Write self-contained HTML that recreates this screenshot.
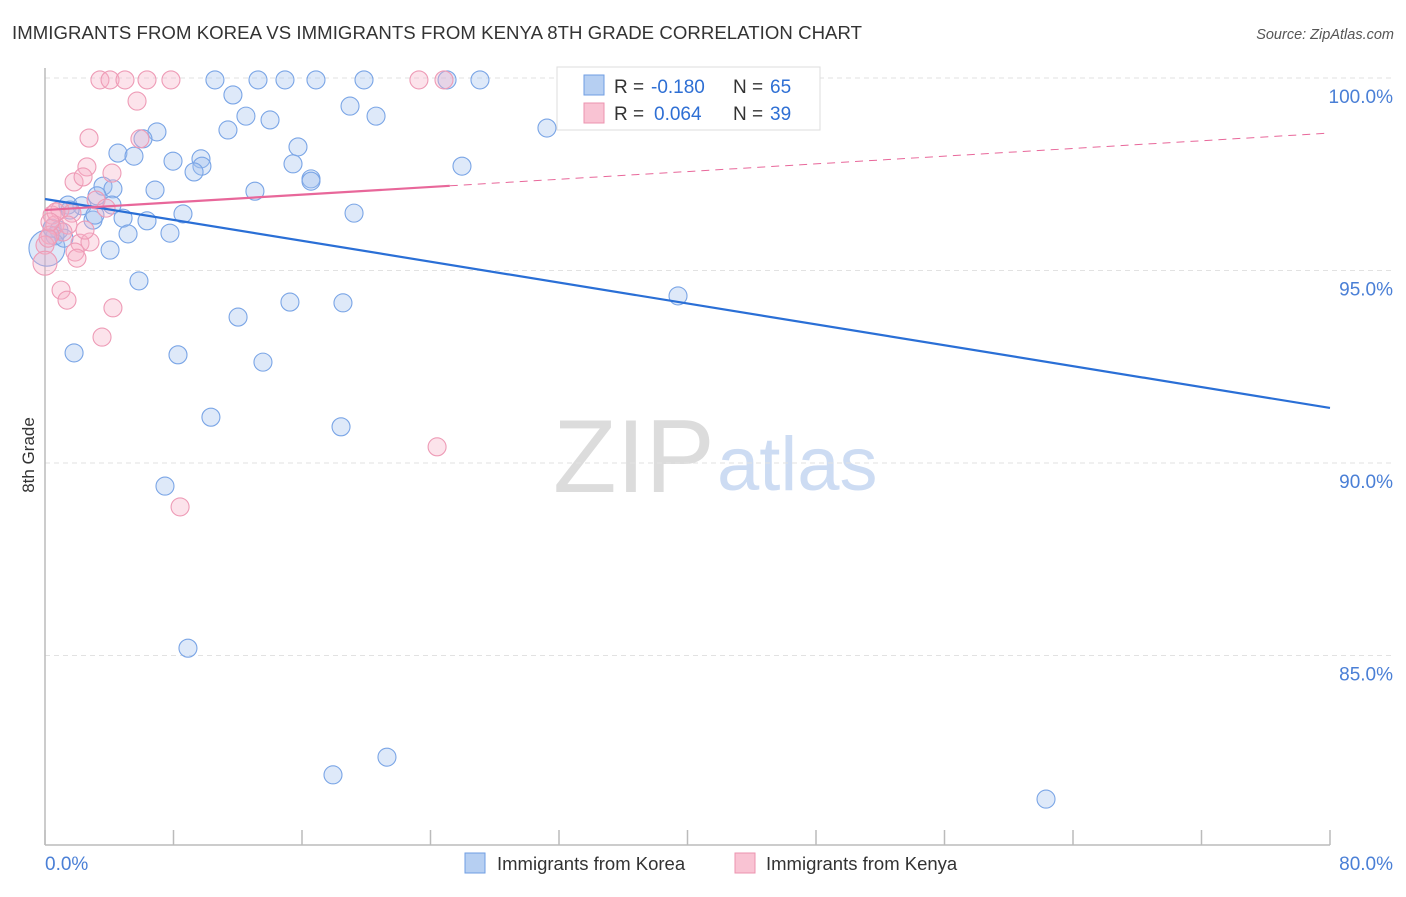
<!DOCTYPE html>
<html><head><meta charset="utf-8"><style>
body{margin:0;background:#fff;font-family:"Liberation Sans",sans-serif;}
svg text{font-family:"Liberation Sans",sans-serif;}
</style></head><body>
<svg id="c" width="1406" height="892" xmlns="http://www.w3.org/2000/svg">
<text x="12" y="39" font-size="18.6" fill="#333" textLength="850">IMMIGRANTS FROM KOREA VS IMMIGRANTS FROM KENYA 8TH GRADE CORRELATION CHART</text>
<text x="1394" y="39" font-size="14.5" fill="#555" text-anchor="end" font-style="italic">Source: ZipAtlas.com</text>
<text transform="translate(34,455) rotate(-90)" font-size="17" fill="#333" text-anchor="middle">8th Grade</text>
<g>
<text x="553" y="492" font-size="104" fill="#dcdcdc" font-family="Liberation Serif, serif">ZIP</text>
<text x="717" y="490" font-size="76" fill="#cddcf3">atlas</text>
</g>
<g id="grid"></g><g id="axes"></g><g id="pts"></g><g id="trend"></g>
<g>
<rect x="557" y="67" width="263" height="63" fill="#fff" stroke="#ddd"/>
<rect x="584" y="75" width="20" height="20" fill="#b6cff2" stroke="#6f9ee3"/>
<rect x="584" y="103" width="20" height="20" fill="#f9c3d3" stroke="#ec93af"/>
<text x="614" y="93" font-size="19" fill="#333">R =</text>
<text x="651" y="93" font-size="19" fill="#2e6fd4">-0.180</text>
<text x="733" y="93" font-size="19" fill="#333">N =</text>
<text x="770" y="93" font-size="19" fill="#2e6fd4">65</text>
<text x="614" y="120" font-size="19" fill="#333">R =</text>
<text x="654" y="120" font-size="19" fill="#2e6fd4">0.064</text>
<text x="733" y="120" font-size="19" fill="#333">N =</text>
<text x="770" y="120" font-size="19" fill="#2e6fd4">39</text>
</g>
<g>
<rect x="465" y="853" width="20" height="20" fill="#b6cff2" stroke="#6f9ee3"/>
<text x="497" y="870" font-size="18.5" fill="#333">Immigrants from Korea</text>
<rect x="735" y="853" width="20" height="20" fill="#f9c3d3" stroke="#ec93af"/>
<text x="766" y="870" font-size="18.5" fill="#333">Immigrants from Kenya</text>
</g>
</svg>
<script>
const koreaX=[10.58,13.26,14.94,16.87,19.86,25.03,27.08,11.70,18.99,20.61,12.51,14.01,11.39,6.97,6.10,31.25,15.75,4.54,5.54,7.97,9.71,15.44,25.96,9.77,9.28,16.56,16.56,3.61,4.23,6.85,13.07,3.24,1.43,2.30,4.17,19.24,8.59,4.86,2.99,6.35,0.87,5.17,7.78,0.62,4.05,0.12,5.85,15.25,18.55,39.41,12.02,1.81,8.28,13.57,10.33,18.43,7.47,8.90,21.29,17.93,62.32,0.44,1.18,1.56,3.11];
const koreaY=[99.95,99.95,99.95,99.95,99.95,99.95,99.95,99.56,99.27,99.01,99.01,98.91,98.65,98.60,98.42,98.70,98.21,98.05,97.97,97.84,97.90,97.77,97.71,97.71,97.56,97.38,97.32,97.19,97.12,97.09,97.06,96.94,96.70,96.68,96.70,96.49,96.47,96.36,96.31,96.29,96.05,95.95,95.97,95.90,95.53,95.58,94.73,94.18,94.16,94.34,93.79,92.86,92.81,92.62,91.19,90.94,89.40,85.19,82.36,81.90,81.27,96.10,95.84,96.57,96.44];
const koreaR=[9,9,9,9,9,9,9,9,9,9,9,9,9,9,9,9,9,9,9,9,9,9,9,9,9,9,9,9,9,9,9,9,9,9,9,9,9,9,9,9,9,9,9,9,9,18,9,9,9,9,9,9,9,9,9,9,9,9,9,9,9,9,9,9,9];
const kenyaX=[3.42,4.05,4.98,6.35,7.84,23.28,24.84,5.73,2.74,5.91,2.61,4.17,1.81,2.37,3.18,3.80,0.93,1.68,0.44,0.62,1.43,1.12,0.31,0,2.18,2.80,1.87,1.99,0,1.00,1.37,4.23,3.55,24.41,8.41,0.68,0.19,0.31,2.49];
const kenyaY=[99.95,99.95,99.95,99.95,99.95,99.95,99.95,99.40,98.44,98.42,97.69,97.53,97.30,97.43,96.83,96.62,96.57,96.49,96.44,96.18,96.18,96.00,95.92,95.66,95.71,95.74,95.48,95.32,95.19,94.49,94.23,94.03,93.27,90.42,88.86,96.52,95.84,96.26,96.05];
const kenyaR=[9,9,9,9,9,9,9,9,9,9,9,9,9,9,9,9,9,9,9,9,9,9,9,9,9,9,9,9,12,9,9,9,9,9,9,9,9,9,9];
const koreaTrend=[96.857,91.43];
const kenyaTrend=[96.57,98.57];
const kenyaSolidEnd=25.2;
const yTicks=[100,95,90,85];
const xTickLabels=["0.0%","80.0%"];

const NS="http://www.w3.org/2000/svg";
const X0=45,X1=1330,Y100=78,PPU=38.5;
const sx=v=>X0+(v/80)*(X1-X0);
const sy=v=>Y100+(100-v)*PPU;
function mk(t,a,p){const e=document.createElementNS(NS,t);for(const k in a)e.setAttribute(k,a[k]);p.appendChild(e);return e;}
const grid=document.getElementById('grid'),axes=document.getElementById('axes'),pts=document.getElementById('pts'),tr=document.getElementById('trend');
yTicks.forEach(t=>{
  const l=mk('line',{x1:X0,x2:1393,y1:sy(t),y2:sy(t),stroke:'#e2e2e2','stroke-dasharray':'5,4'},grid);
  
  
  const tx=mk('text',{x:1393,y:sy(t)+25,'font-size':19,fill:'#4a7fd6','text-anchor':'end'},grid);
  tx.textContent=t.toFixed(1)+'%';
  
  
});
const ya=mk('line',{x1:X0,x2:X0,y1:68,y2:845,stroke:'#bbb','stroke-width':1.5},axes);


const xa=mk('line',{x1:X0,x2:X1,y1:845,y2:845,stroke:'#bbb','stroke-width':1.5},axes);


for(let i=0;i<=10;i++){
  const tk=mk('line',{x1:sx(i*8),x2:sx(i*8),y1:830,y2:845,stroke:'#bbb','stroke-width':1.5},axes);
  
  
}
const xl0=mk('text',{x:45,y:870,'font-size':19,fill:'#4a7fd6'},axes);xl0.textContent=xTickLabels[0];


const xl1=mk('text',{x:1393,y:870,'font-size':19,fill:'#4a7fd6','text-anchor':'end'},axes);xl1.textContent=xTickLabels[1];


koreaX.forEach((v,i)=>{
  const c=mk('circle',{cx:sx(v),cy:sy(koreaY[i]),r:koreaR[i],fill:'rgba(160,192,238,0.35)',stroke:'#7aa5e6','stroke-width':1.1},pts);
  
  
});
kenyaX.forEach((v,i)=>{
  const c=mk('circle',{cx:sx(v),cy:sy(kenyaY[i]),r:kenyaR[i],fill:'rgba(246,176,198,0.35)',stroke:'#ee9bb6','stroke-width':1.1},pts);
  
  
});
const kt=mk('line',{x1:sx(0),y1:sy(koreaTrend[0]),x2:sx(80),y2:sy(koreaTrend[1]),stroke:'#2a6fd6','stroke-width':2.2},tr);


const ky=x=>kenyaTrend[0]+(kenyaTrend[1]-kenyaTrend[0])*x/80;
const ks=mk('line',{x1:sx(0),y1:sy(ky(0)),x2:sx(kenyaSolidEnd),y2:sy(ky(kenyaSolidEnd)),stroke:'#e8679a','stroke-width':2.2},tr);


const kd=mk('line',{x1:sx(kenyaSolidEnd),y1:sy(ky(kenyaSolidEnd)),x2:sx(80),y2:sy(ky(80)),stroke:'#e8679a','stroke-width':1,'stroke-dasharray':'8,6'},tr);


</script>
</body></html>
